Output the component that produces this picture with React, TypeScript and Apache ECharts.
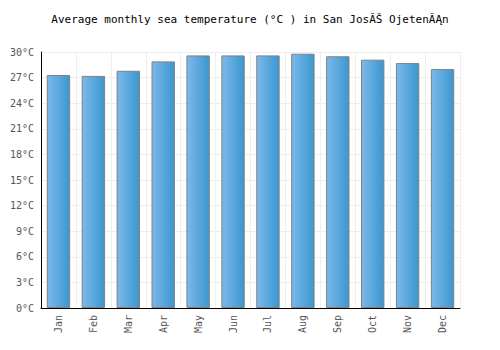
import React, { useEffect, useRef } from "react";
import * as echarts from "echarts";

const months = ["Jan", "Feb", "Mar", "Apr", "May", "Jun", "Jul", "Aug", "Sep", "Oct", "Nov", "Dec"];
const seaTemp = [27.3, 27.2, 27.8, 28.9, 29.6, 29.6, 29.6, 29.8, 29.5, 29.1, 28.7, 28.0];
const titleText = "Average monthly sea temperature (\u00B0C ) in San Jos\u0102\u0160 Ojeten\u0102\u0104n";

export default function App() {
  const ref = useRef<HTMLDivElement>(null);
  useEffect(() => {
    if (!ref.current) return;
    const chart = echarts.init(ref.current, null, { renderer: "svg" });
    const font = "'DejaVu Sans Mono', monospace";
    chart.setOption({
      animation: false,
      backgroundColor: "#ffffff",
      title: {
        text: titleText,
        left: "center",
        top: 9,
        textStyle: { fontFamily: font, fontSize: 11, fontWeight: "normal", color: "#000" },
      },
      grid: { left: 41, right: 40, top: 52, bottom: 42 },
      xAxis: {
        type: "category",
        data: months,
        axisLine: { lineStyle: { color: "#000", width: 1 } },
        axisTick: { show: false },
        splitLine: { show: true, lineStyle: { color: "#eeeeee" } },
        axisLabel: { rotate: 90, fontFamily: font, fontSize: 10, color: "#555", margin: 7 },
      },
      yAxis: {
        type: "value",
        min: 0,
        max: 30,
        interval: 3,
        axisLine: { show: true, lineStyle: { color: "#000", width: 1 } },
        axisTick: { show: false },
        splitLine: { show: true, lineStyle: { color: "#eeeeee" } },
        axisLabel: { formatter: "{value}\u00B0C", fontFamily: font, fontSize: 10, color: "#555", margin: 7 },
      },
      series: [
        {
          type: "bar",
          data: seaTemp,
          barWidth: "67%",
          itemStyle: {
            color: new echarts.graphic.LinearGradient(0, 0, 1, 0, [
              { offset: 0, color: "#7cb9ea" },
              { offset: 1, color: "#3a97d0" },
            ]),
            borderColor: "#808080",
            borderWidth: 1,
          },
        },
      ],
    });
    return () => chart.dispose();
  }, []);
  return <div ref={ref} style={{ width: 500, height: 350, margin: -8 }} />;
}
